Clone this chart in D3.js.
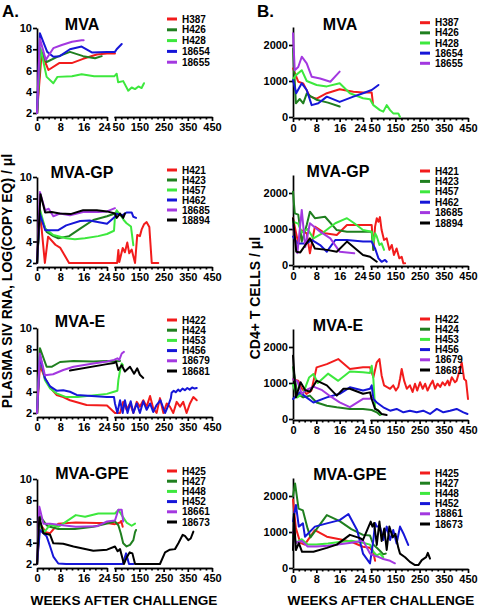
<!DOCTYPE html>
<html><head><meta charset="utf-8">
<script src="https://cdn.jsdelivr.net/npm/d3@7"></script>
<style>
body{margin:0;background:#fff}
svg text{font-family:"Liberation Sans",Arial,sans-serif;font-weight:bold;fill:#000}
</style>
</head><body><svg id="c" width="480" height="608"></svg>
<script>
// ---------- DATA (weeks after challenge, value) ----------
const seriesColors = ["#f21c1c","#1f7f1f","#3de83d","#1616d8","#a338e0","#000000"];
const xMajorSeg1 = [0, 8, 16, 24];
const xMajorSeg2 = [50, 150, 250, 350, 450];
const vlTicks = [2, 4, 6, 8, 10];
const cd4Ticks = [0, 1000, 2000];

// Panel A: plasma SIV RNA (log copy eq / ul)
const vlMVA_names = ["H387","H426","H428","18654","18655"];
const vlMVA = [
 [[0,2],[1.6,7.6],[3.9,6.05],[7.6,6.7],[11.9,6.7],[15.8,7.1],[20.5,7.5],[24,7.6],[49,7.6]],
 [[0,2],[1.3,7.9],[3.3,6.8],[7.1,7.3],[11.3,7.75],[15.8,7.35],[19.9,7.15],[22.2,7.35]],
 [[0,2],[1.2,8.1],[3.3,5.4],[5.6,4.8],[7,5.4],[12,5.45],[15.3,5.65],[19.6,5.45],[24,5.45],[46,5.45],[56,5.7],[62,4.9],[83,5.0],[104,4.1],[118,4.4],[132,4.25],[146,4.5],[159,4.35],[169,4.8]],
 [[0,2],[1,9.5],[3.5,7.75],[5.6,7.3],[7.8,7.35],[11.3,8.0],[15.3,8.25],[18.8,7.7],[24,7.75],[49,7.75],[56,8.0],[77,8.5]],
 [[0,2],[1,9.0],[3,7.0],[5.6,8.1],[8.5,8.4],[12,8.7],[15.3,8.85],[16,8.85]]
];
const vlGP_names = ["H421","H423","H457","H462","18685","18894"];
const vlGP = [
 [[0,2],[1,6.9],[2.7,2],[3.8,4.45],[6.3,3.7],[8,3.4],[11,2],[24,2],[48,2],[58,2],[63,3.2],[67,2.1],[81,3.4],[90,3.0],[100,3.9],[108,2.9],[118,3.25],[132,2],[141,4.6],[152,4.5],[159,5.1],[169,5.6],[180,5.8],[191,5.35],[201,2],[228,2]],
 [[0,2],[1,6.5],[3.3,4.9],[5.6,4.5],[7.3,4.3],[11,4.5],[14.8,5.2],[19.3,6.0],[24,6.35],[49,6.6],[56,6.75]],
 [[0,2],[1,7.0],[2.8,5.2],[5.6,4.6],[10,4.3],[13,4.2],[16.4,4.3],[21,4.5],[24,4.7],[45,5.0],[49,6.3],[56,6.9],[77,6.3],[85,6.0],[97,5.7],[115,5.4],[125,3.65]],
 [[0,2],[1,6.6],[2.8,5.05],[7.3,5.05],[10,5.5],[14.8,5.9],[18,5.95],[24,5.65],[49,6.3],[56,6.6],[77,6.4],[97,6.7],[118,6.7],[125,6.3],[136,6.2]],
 [[0,2],[1,8.6],[2.8,6.9],[4,7.05],[5.6,6.35],[7.8,6.6],[11.3,6.45],[15.8,6.75],[21,6.75],[24,6.8],[49,7.1]],
 [[0,2],[1.2,8.4],[2.8,6.7],[5,6.75],[7.8,6.6],[11.5,6.55],[15.8,6.9],[20.5,6.9],[24,6.8],[49,6.6],[56,6.2],[70,6.6],[83,6.2],[90,6.6]]
];
const vlE_names = ["H422","H424","H453","H456","18679","18681"];
const vlE = [
 [[0,2],[1,6.5],[2.7,5.3],[4.5,4.4],[6.7,3.7],[9,3.5],[11.3,3.2],[17,2.75],[24,2.7],[49,2],[70,2],[83,3.05],[97,2.3],[111,2.9],[125,2],[139,3.05],[152,2.6],[166,3.2],[180,2.6],[194,3.6],[207,2.45],[221,2],[235,3.4],[249,2],[263,2.9],[276,2.6],[290,2],[304,3.05],[318,2.6],[331,3.05],[345,2],[359,2.9],[373,3.5],[387,3.2]],
 [[0,2],[1,8.1],[3.3,6.35],[5,6.35],[7.9,6.8],[12.5,6.9],[19.3,6.85],[24,6.9],[45,6.85],[70,6.9]],
 [[0,2],[1,7.5],[2.7,5.1],[4.5,4.3],[6.7,3.85],[10,3.5],[14,3.5],[24,3.8],[45,4.0],[59,4.1],[63,5.1],[70,6.0],[77,6.65],[82,6.5]],
 [[0,2],[1,7.4],[2.7,5.3],[4.5,4.5],[6.7,4.1],[9,4.15],[11.3,4.0],[13.6,3.7],[24,3.5],[45,3.5],[49,2.9],[59,2],[70,3.2],[81,2],[90,3.2],[101,2],[114,3.1],[125,2],[139,2.9],[152,2],[166,3.1],[180,2.3],[194,2.9],[207,2.1],[221,2.75],[237,3.2],[256,2],[270,2.75],[280,3.4],[283,3.9],[292,4.1],[300,3.95],[310,4.2],[318,4.05],[328,4.3],[338,4.15],[348,4.35],[358,4.2],[368,4.4],[378,4.3],[387,4.35]],
 [[0,2],[1,7.6],[2.7,5.55],[5.5,5.65],[9,6.05],[12.5,6.35],[19.3,6.65],[24,6.85],[45,7.0],[59,7.15],[67,7.0],[77,7.6],[86,7.75]],
 [[11.3,6.0],[24,6.6],[45,6.7],[53,6.85],[63,6.05],[77,6.5],[90,5.9],[111,6.35],[128,5.7],[141,6.2],[152,5.6],[166,5.3]]
];
const vlGPE_names = ["H425","H427","H448","H452","18661","18673"];
const vlGPE = [
 [[0,2],[1,5.8],[3,5.0],[4.5,4.9],[7.3,5.8],[13.3,5.9],[20.5,5.85],[24,5.85],[49,5.75],[70,5.9],[75,6.05],[81,5.5]],
 [[0,2],[1,6.5],[3.3,5.65],[4.5,5.5],[7.3,5.3],[13,5.3],[19.3,5.5],[24,5.8],[49,6.0],[63,5.65],[73,4.9],[83,3.95],[97,3.65],[111,3.8],[125,4.25],[132,5.0],[136,5.2]],
 [[0,2],[0.8,5.8],[2.5,5.0],[4.5,5.7],[7.3,5.5],[13.3,6.6],[16.5,6.45],[21,6.75],[24,6.75],[49,6.75],[63,7.1],[77,6.6],[97,5.9],[118,5.6],[132,5.8]],
 [[0,2],[1,5.2],[3.3,4.6],[4.5,3.65],[5.6,2.7],[7.3,2.05],[10,2],[24,2],[45,2],[81,2],[95,3.0],[107,2],[125,2]],
 [[0,2],[0.8,7.4],[2.2,5.8],[4.5,5.8],[7.3,5.7],[13.3,5.5],[20.5,5.55],[24,6.0],[49,6.1],[63,7.1],[77,7.1],[83,6.0]],
 [[0,2],[0.8,6.4],[2.2,4.9],[4.5,4.75],[5.6,3.95],[9,3.9],[12.5,3.65],[19.3,3.25],[24,3.35],[49,3.65],[60,3.2],[70,3.4],[86,2],[97,2.6],[110,3.1],[121,3.0],[132,2],[235,2],[256,3.1],[276,3.35],[297,3.4],[311,3.95],[329,4.75],[338,4.65],[352,4.25],[362,4.4],[373,5.05]]
];

// Panel B: CD4+ T cells / ul
const cdMVA_names = ["H387","H426","H428","18654","18655"];
const cdMVA = [
 [[0,1350],[1.8,980],[3.5,935],[5.8,565],[8.1,510],[11.6,660],[16,770],[20.7,700],[24,680],[52,680],[57,380]],
 [[0,1900],[1,380],[2.3,500],[3.5,380],[4.7,650],[6,580],[8,480],[12,400],[16,290]],
 [[0,1050],[1.1,1170],[3,1300],[4.7,1000],[8.1,890],[11.6,850],[16,935],[19.5,660],[24,520],[45,490],[59,330],[86,190],[100,150],[114,330],[128,190],[141,100],[162,100],[169,0]],
 [[0,1030],[1.1,660],[3,935],[4.7,750],[6.4,330],[8.7,380],[11.6,565],[16,420],[20.7,565],[24,660],[52,750],[66,820],[80,890]],
 [[0,2325],[0.6,1300],[1.8,1390],[3,1675],[4.7,1490],[6.4,1120],[9.3,1070],[12.8,980],[16,1260]]
];
const cdGP_names = ["H421","H423","H457","H462","18685","18894"];
const cdGP = [
 [[0,1300],[1.8,600],[3,960],[4.7,880],[5.8,325],[7.5,1065],[11,880],[15,835],[18.5,1110],[24,1110],[52,1110],[59,420],[66,1065],[73,1300],[80,1200],[86,1330],[93,970],[103,695],[114,740],[125,420],[135,555],[144,280],[155,460],[166,185],[176,230],[183,45],[190,50]],
 [[0,2035],[0.6,1435],[1.8,1400],[3,650],[4.7,1110],[5.8,1480],[7.5,1300],[11,1340],[15,970],[18.5,925],[24,925],[52,925],[59,420]],
 [[0,1200],[1.8,1150],[3,900],[5,1000],[7,740],[10,880],[14.5,1160],[18.5,1300],[21,1160],[24,970],[52,925],[59,600],[66,880],[73,790],[84,555],[93,600],[103,420]],
 [[0,790],[1.5,600],[4.7,600],[6.4,695],[9.3,555],[11.6,370],[14.5,695],[18.5,695],[24,650],[52,650],[66,460],[80,185],[93,90],[107,140],[114,90]],
 [[0,1100],[1.5,330],[3,1530],[4.2,500],[5.8,1160],[9.3,925],[12.8,740],[16,370],[21,325]],
 [[0,1300],[1.1,370],[2.5,350],[5.8,740],[7.5,460],[11.6,420],[15,370],[18.5,650],[24,280],[45,230],[73,90]]
];
const cdE_names = ["H422","H424","H453","H456","18679","18681"];
const cdE = [
 [[0,1100],[1.8,1065],[2.9,860],[4.6,695],[6.3,790],[8.1,1435],[11.6,1525],[15.5,1665],[19.5,1390],[24,1435],[45,1435],[59,1160],[73,1575],[84,1665],[93,1210],[103,935],[114,890],[128,840],[141,935],[152,790],[162,890],[169,1110],[176,1390],[186,1065],[197,840],[210,935],[221,750],[231,980],[240,790],[252,1020],[263,840],[273,980],[283,790],[293,935],[304,1065],[314,840],[324,980],[335,890],[345,1020],[355,935],[366,1065],[373,935],[383,1160],[396,1020],[403,1065],[417,1390],[424,1570],[434,1110],[442,1065],[450,555]],
 [[0,1440],[1.5,700],[3.5,600],[5.8,650],[8.1,460],[11.6,370],[15,325],[19.5,280],[24,280],[52,250],[73,185],[86,110]],
 [[0,950],[1.5,600],[3.5,720],[5.5,1150],[7,1250],[8.5,1000],[12,1260],[15.5,1060],[19.5,1320],[24,1300],[45,1280],[52,1480],[59,1100],[66,300],[80,230],[90,120]],
 [[0,555],[2.3,740],[4.6,600],[7,460],[11.6,600],[16,700],[19.5,880],[24,790],[45,840],[52,935],[59,555],[73,460],[100,325],[128,230],[155,280],[183,185],[210,230],[238,185],[265,230],[293,140],[321,280],[348,185],[376,230],[403,280],[431,185],[448,140]],
 [[0,1100],[1.5,1050],[3,700],[4.5,800],[7,900],[10,800],[13,620],[16,460],[19.5,330],[24,560],[45,560],[52,620]],
 [[0,1760],[1,600],[2.6,1020],[4.2,800],[5.8,760],[8.1,1065],[11.6,935],[15,650],[17.3,840],[19.5,840],[24,700],[45,740],[52,555],[59,420],[66,280],[80,230],[93,140],[114,110]]
];
const cdGPE_names = ["H425","H427","H448","H452","18861","18673"];
const cdGPE = [
 [[0,1900],[1,1100],[2.5,700],[4,650],[7.5,1050],[11.6,870],[16,800],[20,730],[24,590],[45,560],[59,430],[66,200]],
 [[0,2000],[0.7,2350],[1.9,1650],[3.4,1600],[5,1100],[6,850],[11.6,1470],[16,1300],[20,1080],[24,920],[45,900],[59,650],[73,560],[86,480],[100,380],[110,400]],
 [[0,900],[1,700],[3,800],[5,650],[8,650],[12,680],[16,720],[20,760],[24,700],[45,650],[59,450],[73,350],[86,400],[100,300]],
 [[0,1300],[1,1750],[2,1150],[3.4,1240],[4.1,870],[7.5,1150],[11.6,1240],[16,1330],[19,1500],[22,1050],[24,400],[45,130],[59,780],[66,1250],[73,1150],[86,1150],[100,780],[114,1150],[128,780],[141,1055],[155,680],[169,1150],[183,960],[203,640]],
 [[0,1000],[1,700],[3,750],[5,600],[8,600],[12,620],[16,660],[20,700],[24,760],[45,400],[59,350],[79,310],[100,250],[128,200],[148,130]],
 [[0,500],[0.3,1500],[1,500],[2,690],[3.1,450],[7,450],[11.6,560],[15,650],[19.5,920],[23,830],[24,780],[48,1290],[55,1150],[62,1250],[73,640],[84,1290],[93,750],[104,1100],[114,500],[125,1150],[139,850],[150,950],[162,560],[169,400],[190,300],[210,170],[231,80],[245,80],[259,220],[277,300],[284,420],[293,260]]
];

// ---------- LAYOUT ----------
const svg = d3.select("#c");
const panels = [
 {title:"MVA", names:vlMVA_names, data:vlMVA, side:"L", top:28, base:113, tx:82, ty:30, ly:19, lsp:10.8},
 {title:"MVA-GP", names:vlGP_names, data:vlGP, side:"L", top:177, base:263, tx:82, ty:178, ly:170, lsp:10},
 {title:"MVA-E", names:vlE_names, data:vlE, side:"L", top:328, base:413, tx:80, ty:327, ly:320, lsp:10.2},
 {title:"MVA-GPE", names:vlGPE_names, data:vlGPE, side:"L", top:479, base:564, tx:92, ty:479, ly:471, lsp:10.2},
 {title:"MVA", names:cdMVA_names, data:cdMVA, side:"R", top:27, base:117, tx:340, ty:30, ly:22.7, lsp:10.15},
 {title:"MVA-GP", names:cdGP_names, data:cdGP, side:"R", top:175, base:265, tx:338, ty:177, ly:171, lsp:10.4},
 {title:"MVA-E", names:cdE_names, data:cdE, side:"R", top:329, base:419, tx:338, ty:331, ly:319, lsp:10.2},
 {title:"MVA-GPE", names:cdGPE_names, data:cdGPE, side:"R", top:478, base:568, tx:350, ty:480, ly:473, lsp:10.2}
];

function styleAxis(g){
  g.selectAll("path,line").attr("stroke","#000").attr("stroke-width",1.7);
  g.selectAll("text").attr("font-size",11).attr("font-weight","bold")
   .attr("font-family","'Liberation Sans',Arial,sans-serif");
}

panels.forEach(p=>{
  const x0 = p.side==="L" ? 37 : 293;
  const xs = d3.scaleLinear().domain([0,24,45,450]).range([x0,x0+70,x0+77,x0+175]);
  const seg1 = d3.scaleLinear().domain([0,24]).range([x0,x0+70]);
  const seg2 = d3.scaleLinear().domain([45,450]).range([x0+77,x0+175]);
  let ys, yTicks, axisY;
  if(p.side==="L"){ ys = d3.scaleLinear().domain([2,10]).range([p.base,p.top]); yTicks = vlTicks; axisY = p.base+4; }
  else { ys = d3.scaleLinear().domain([0,2500]).range([p.base,p.top]); yTicks = cd4Ticks; axisY = p.base+1; }

  // y axis
  const gy = svg.append("g").attr("transform",`translate(${x0},0)`)
    .call(d3.axisLeft(ys).tickValues(yTicks).tickSize(4).tickSizeOuter(0).tickPadding(1).tickFormat(d3.format("d")));
  styleAxis(gy);

  // x axis segments
  const minor1 = d3.range(2,24,2).filter(v=>v%8!==0);
  const minor2 = d3.range(75,450,25).filter(v=>(v-50)%100!==0);
  [[seg1,xMajorSeg1,minor1],[seg2,xMajorSeg2,minor2]].forEach(([sc,maj,mn])=>{
    const g = svg.append("g").attr("transform",`translate(0,${axisY})`)
      .call(d3.axisBottom(sc).tickValues(maj).tickSize(4).tickSizeOuter(0).tickPadding(2).tickFormat(d3.format("d")));
    styleAxis(g);
    g.selectAll(".tick text").attr("dx", d => d===24 ? -3 : (d===50 ? 3 : 0));
    const gm = svg.append("g").attr("transform",`translate(0,${axisY})`)
      .call(d3.axisBottom(sc).tickValues(mn).tickSize(2.5).tickSizeOuter(0).tickFormat(""));
    styleAxis(gm);
  });

  // lines
  const line = d3.line().x(d=>xs(d[0])).y(d=>ys(d[1]));
  p.data.forEach((s,i)=>{
    svg.append("path").attr("d",line(s)).attr("fill","none")
      .attr("stroke",seriesColors[i]).attr("stroke-width",2)
      .attr("stroke-linejoin","round").attr("stroke-linecap","round");
  });

  // title
  svg.append("text").attr("x",p.tx).attr("y",p.ty).attr("text-anchor","middle")
    .attr("font-size",16).text(p.title);

  // legend
  const lx = p.side==="L" ? 167 : 420;
  p.names.forEach((n,i)=>{
    const y = p.ly + i*p.lsp;
    svg.append("line").attr("x1",lx).attr("x2",lx+10).attr("y1",y).attr("y2",y)
      .attr("stroke",seriesColors[i]).attr("stroke-width",3);
    svg.append("text").attr("x",lx+15).attr("y",y).attr("dy","0.35em")
      .attr("font-size",10).text(n);
  });
});

// panel letters
svg.append("text").attr("x",2).attr("y",17).attr("font-size",17).text("A.");
svg.append("text").attr("x",257).attr("y",17).attr("font-size",17).text("B.");

// axis titles
svg.append("text").attr("transform","translate(12,281) rotate(-90)").attr("text-anchor","middle")
  .attr("font-size",14).text("PLASMA SIV RNA, LOG(COPY EQ) / \u03BCl");
svg.append("text").attr("transform","translate(260,298) rotate(-90)").attr("text-anchor","middle")
  .attr("font-size",14).text("CD4+ T CELLS / \u03BCl");
svg.append("text").attr("x",124).attr("y",605).attr("text-anchor","middle").attr("font-size",13.6).text("WEEKS AFTER CHALLENGE");
svg.append("text").attr("x",381).attr("y",605).attr("text-anchor","middle").attr("font-size",13.6).text("WEEKS AFTER CHALLENGE");
</script></body></html>
